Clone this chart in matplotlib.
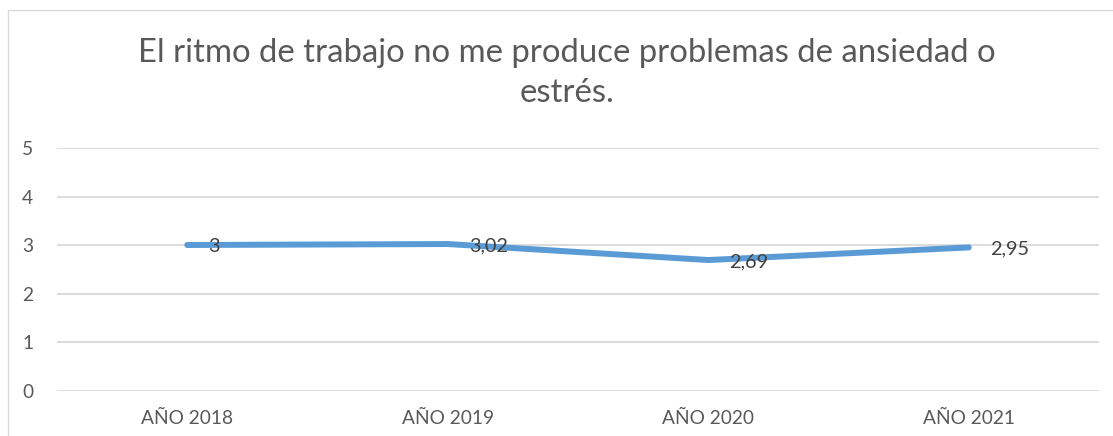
import matplotlib
matplotlib.use("Agg")
import matplotlib.pyplot as plt
from matplotlib.patches import Rectangle
from matplotlib.font_manager import FontProperties

categories = ["AÑO 2018", "AÑO 2019", "AÑO 2020", "AÑO 2021"]
values = [3.00, 3.02, 2.69, 2.95]
value_labels = ["3", "3,02", "2,69", "2,95"]
yticks = [0, 1, 2, 3, 4, 5]
title_lines = ["El ritmo de trabajo no me produce problemas de ansiedad o", "estrés."]

FONT = "Lato"
W, H, DPI = 1113, 436, 100
fig = plt.figure(figsize=(W / DPI, H / DPI), dpi=DPI)
fig.patch.set_facecolor("white")
renderer = fig.canvas.get_renderer()


def fit_size(text, target_px, base=20):
    t = fig.text(0, 0, text, fontsize=base, family=FONT)
    w = t.get_window_extent(renderer=renderer).width
    t.remove()
    return base * target_px / w


title_fs = fit_size(title_lines[0], 860)
tick_fs = fit_size(categories[0], 92)
lab_fs = fit_size("3,02", 39)

# chart frame (left and top edges visible)
fig.patches.append(Rectangle((7.5 / W, -0.1), 1.2, 1 - 10 / H + 0.1,
                             transform=fig.transFigure, fill=False,
                             edgecolor="#D9D9D9", linewidth=1.0))

ax = fig.add_axes([57 / W, 45.5 / H, (1099 - 57) / W, (390.5 - 148) / H])
x = list(range(len(categories)))
ax.plot(x, values, color="#5B9BD5", linewidth=4.3, solid_capstyle="round",
        solid_joinstyle="round", zorder=3)
for xi, v, s in zip(x, values, value_labels):
    ax.annotate(s, (xi, v), xytext=(21 * 0.72, -1), textcoords="offset points",
                ha="left", va="center", fontsize=lab_fs, family=FONT,
                color="#404040", zorder=4)

ax.set_xlim(-0.5, len(categories) - 0.5)
ax.set_ylim(0, 5)
ax.set_yticks(yticks)
ax.set_yticklabels([str(t) for t in yticks])
ax.set_xticks(x)
ax.set_xticklabels(categories)
ax.grid(axis="y", color="#D9D9D9", linewidth=1.3, zorder=0)
ax.grid(axis="x", visible=False)
for sp in ax.spines.values():
    sp.set_visible(False)
ax.tick_params(axis="both", length=0, labelcolor="#595959", labelsize=tick_fs)
ax.tick_params(axis="y", pad=17)
ax.tick_params(axis="x", pad=14)
for lbl in ax.get_xticklabels() + ax.get_yticklabels():
    lbl.set_family(FONT)
ax.set_axisbelow(True)

fig.text(567 / W, 1 - 62 / H, title_lines[0], ha="center", va="baseline",
         fontsize=title_fs, family=FONT, color="#595959")
fig.text(567 / W, 1 - 102 / H, title_lines[1], ha="center", va="baseline",
         fontsize=title_fs, family=FONT, color="#595959")

fig.savefig("out.png", dpi=DPI, facecolor="white")
